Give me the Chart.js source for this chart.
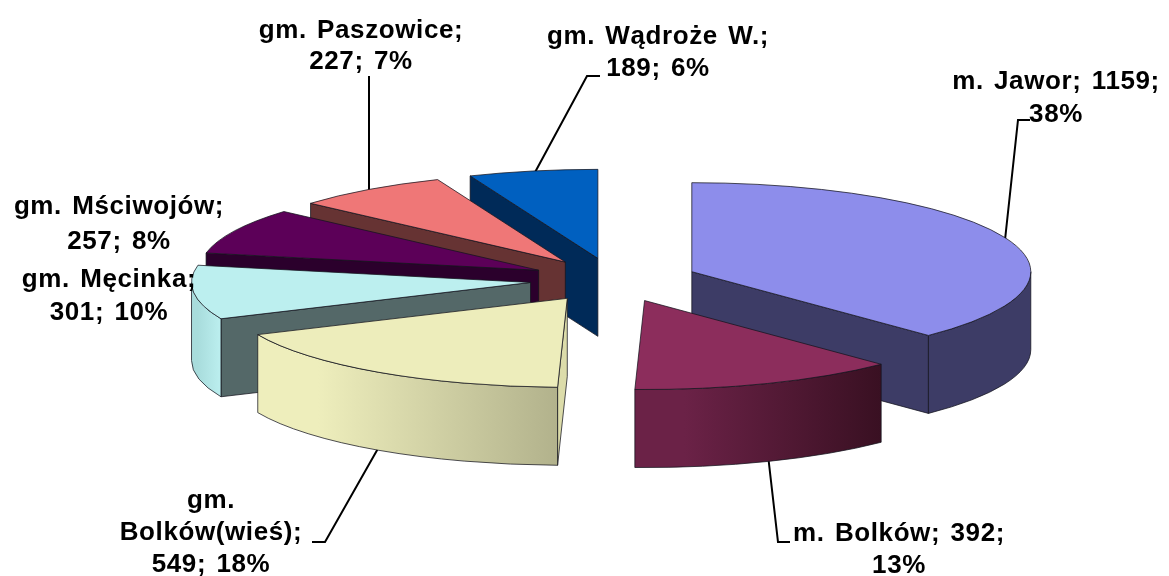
<!DOCTYPE html>
<html>
<head>
<meta charset="utf-8">
<style>
  body { margin: 0; background: #fff; }
  canvas { display: block; filter: blur(0.5px); }
</style>
<script src="https://cdn.jsdelivr.net/npm/chart.js@4/dist/chart.umd.min.js"></script>
</head>
<body>
<canvas id="pieChart" width="1169" height="576"></canvas>
<script>
// data
const categories = ['m. Jawor', 'm. Bolków', 'gm. Bolków(wieś)', 'gm. Męcinka', 'gm. Mściwojów', 'gm. Paszowice', 'gm. Wądroże W.'];
const values = [1159, 392, 549, 301, 257, 227, 189];
const percents = [38, 13, 18, 10, 8, 7, 6];

// slice colours
const topColors = ['#8d8deb', '#8c2d5c', '#ededbb', '#bcefef', '#5c0058', '#ef7777', '#0060c0'];
const cutColors = ['#3d3c66', '#3d3c66', '#dcdcaa', '#546868', '#2b002c', '#663333', '#002a58'];
const wallLeft = ['#3d3c66', '#6b2247', '#eeeebc', '#a8dcdc', '#2b002c', '#663333', '#002a58'];
const wallRight = ['#3d3c66', '#391022', '#b2b28c', '#bcefef', '#2b002c', '#663333', '#002a58'];

// 3d look
const radiusX = 339;
const radiusY = 89;
const depth = 78;
const explode = 84;

// label layout: words per line, centre x, first baseline, line height
const labelWraps = [[3, 1], [3, 1], [1, 1, 2], [2, 2], [2, 2], [2, 2], [3, 2]];
const labelX = [1056, 899, 211, 109, 119, 361, 658];
const labelY = [89, 541, 508, 287, 214, 38, 44];
const labelGap = [33, 32, 32, 33, 35, 31, 32];
const leaders = [
    [[1005, 240], [1018, 120], [1030, 120]],
    [[768, 455], [778, 542], [790, 542]],
    [[380, 445], [325, 542], [312, 542]],
    [],
    [],
    [[369, 195], [369, 76]],
    [[533, 176], [587, 76], [600, 76]]
];

function drawLeaders(ctx) {
    ctx.strokeStyle = '#000';
    ctx.lineWidth = 2;
    leaders.forEach(path => {
        ctx.beginPath();
        path.forEach((p, i) => i ? ctx.lineTo(p[0], p[1]) : ctx.moveTo(p[0], p[1]));
        ctx.stroke();
    });
}

function drawLabels(ctx) {
    ctx.fillStyle = '#000';
    ctx.font = 'bold 26px "Liberation Sans"';
    ctx.letterSpacing = '0.6px';
    ctx.wordSpacing = '2.5px';
    ctx.textAlign = 'center';
    categories.forEach((name, i) => {
        const words = `${name}; ${values[i]}; ${percents[i]}%`.split(' ');
        let y = labelY[i];
        labelWraps[i].forEach(count => {
            ctx.fillText(words.splice(0, count).join(' '), labelX[i], y);
            y += labelGap[i];
        });
    });
    ctx.letterSpacing = '0px';
    ctx.wordSpacing = '0px';
}

function drawSlice(ctx, arc, i) {
    const start = arc.startAngle;
    const end = arc.endAngle;
    const mid = (start + end) / 2;
    const cx = arc.x + Math.cos(mid) * explode;
    const cy = arc.y + Math.sin(mid) * explode * radiusY / radiusX;
    const rimX = a => cx + Math.cos(a) * radiusX;
    const rimY = a => cy + Math.sin(a) * radiusY;

    ctx.strokeStyle = 'rgba(20,20,30,0.75)';
    ctx.lineWidth = 1;

    // cut faces, skip the ones turned away from the viewer
    const faces = [];
    if (Math.cos(start) < 0) faces.push(start);
    if (Math.cos(end) > 0) faces.push(end);
    faces.forEach(a => {
        ctx.beginPath();
        ctx.moveTo(cx, cy);
        ctx.lineTo(rimX(a), rimY(a));
        ctx.lineTo(rimX(a), rimY(a) + depth);
        ctx.lineTo(cx, cy + depth);
        ctx.closePath();
        ctx.fillStyle = cutColors[i];
        ctx.fill();
        ctx.stroke();
    });

    // outer wall, only the part that faces the viewer
    const from = Math.max(start, 0);
    const to = Math.min(end, Math.PI);
    if (to > from) {
        const grad = ctx.createLinearGradient(rimX(to), 0, rimX(from), 0);
        grad.addColorStop(0.2, wallLeft[i]);
        grad.addColorStop(1, wallRight[i]);
        ctx.beginPath();
        ctx.ellipse(cx, cy, radiusX, radiusY, 0, from, to);
        ctx.ellipse(cx, cy + depth, radiusX, radiusY, 0, to, from, true);
        ctx.closePath();
        ctx.fillStyle = grad;
        ctx.fill();
        ctx.stroke();
    }

    // top face is the library's own arc, squashed into an ellipse
    ctx.save();
    ctx.translate(cx, cy);
    ctx.scale(radiusX / arc.outerRadius, radiusY / arc.outerRadius);
    ctx.translate(-arc.x, -arc.y);
    arc.draw(ctx);
    ctx.restore();

    ctx.beginPath();
    ctx.moveTo(cx, cy);
    ctx.ellipse(cx, cy, radiusX, radiusY, 0, start, end);
    ctx.closePath();
    ctx.stroke();
}

const tiltedPie = {
    id: 'tiltedPie',
    beforeDatasetDraw(chart, args) {
        const ctx = chart.ctx;
        const arcs = args.meta.data.map((arc, i) => ({ arc, i }));
        // back slices first
        arcs.sort((a, b) => Math.sin((a.arc.startAngle + a.arc.endAngle) / 2) - Math.sin((b.arc.startAngle + b.arc.endAngle) / 2));
        drawLeaders(ctx);
        arcs.forEach(item => drawSlice(ctx, item.arc, item.i));
        drawLabels(ctx);
        return false;
    }
};

new Chart(document.getElementById('pieChart').getContext('2d'), {
    type: 'pie',
    data: {
        labels: categories,
        datasets: [{
            data: values,
            backgroundColor: topColors,
            borderWidth: 0
        }]
    },
    options: {
        responsive: false,
        animation: false,
        layout: { padding: { left: 59, bottom: 16 } },
        plugins: {
            legend: { display: false },
            tooltip: { enabled: false }
        }
    },
    plugins: [tiltedPie]
});
</script>
</body>
</html>
